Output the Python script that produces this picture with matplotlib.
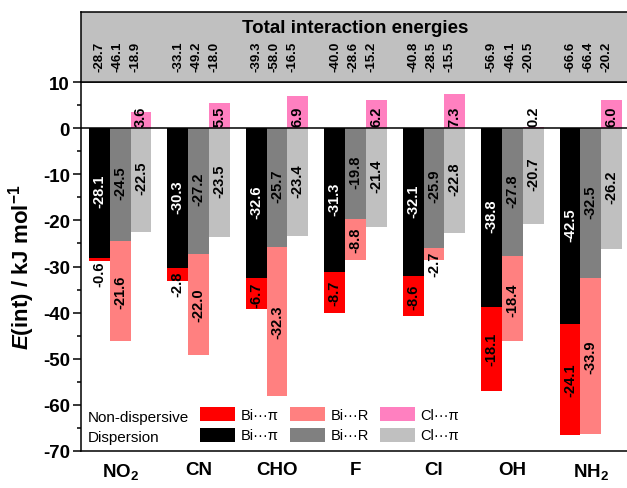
import matplotlib
matplotlib.use("Agg")
import matplotlib.pyplot as plt
import numpy as np
from matplotlib.patches import Patch
from matplotlib.ticker import MultipleLocator

plt.rcParams['font.family'] = ['Liberation Sans', 'DejaVu Sans']
plt.rcParams['mathtext.fontset'] = 'custom'
plt.rcParams['mathtext.rm'] = 'Liberation Sans'
plt.rcParams['mathtext.it'] = 'Liberation Sans:italic'
plt.rcParams['mathtext.bf'] = 'Liberation Sans:bold'
plt.rcParams['mathtext.bfit'] = 'Liberation Sans:bold:italic'
plt.rcParams['axes.unicode_minus'] = False

# ---- data -------------------------------------------------------------
substituents = ['NO$_\\mathbf{2}$', 'CN', 'CHO', 'F', 'Cl', 'OH', 'NH$_\\mathbf{2}$']
contacts = ['Bi\u00b7\u00b7\u00b7\u03c0', 'Bi\u00b7\u00b7\u00b7R', 'Cl\u00b7\u00b7\u00b7\u03c0']

# dispersion contributions (kJ/mol)
disp_bi_pi = [-28.1, -30.3, -32.6, -31.3, -32.1, -38.8, -42.5]
disp_bi_r = [-24.5, -27.2, -25.7, -19.8, -25.9, -27.8, -32.5]
disp_cl_pi = [-22.5, -23.5, -23.4, -21.4, -22.8, -20.7, -26.2]

# non-dispersive contributions (kJ/mol)
nondisp_bi_pi = [-0.6, -2.8, -6.7, -8.7, -8.6, -18.1, -24.1]
nondisp_bi_r = [-21.6, -22.0, -32.3, -8.8, -2.7, -18.4, -33.9]
nondisp_cl_pi = [3.6, 5.5, 6.9, 6.2, 7.3, 0.2, 6.0]

# total interaction energies (kJ/mol)
total_bi_pi = [-28.7, -33.1, -39.3, -40.0, -40.8, -56.9, -66.6]
total_bi_r = [-46.1, -49.2, -58.0, -28.6, -28.5, -46.1, -66.4]
total_cl_pi = [-18.9, -18.0, -16.5, -15.2, -15.5, -20.5, -20.2]

yticks = [-70, -60, -50, -40, -30, -20, -10, 0, 10]

# ---- styling ----------------------------------------------------------
disp_colors = ['#000000', '#808080', '#C0C0C0']
nondisp_colors = ['#FF0000', '#FF8080', '#FF80C0']
disp_text_colors = ['white', 'black', 'black']
bar_w = 0.265
bar_offsets = [-bar_w, 0.0, bar_w]
total_offsets = [-0.26, -0.03, 0.20]

W, H = 627, 489
fig = plt.figure(figsize=(W / 100, H / 100), dpi=100)

x_left_px, x_right_px = 81, 630
y_top_px, y_bot_px, head_top_px = 83, 452, 12.7
ax = fig.add_axes([x_left_px / W, (H - y_bot_px) / H,
                   (x_right_px - x_left_px) / W, (y_bot_px - y_top_px) / H])
hax = fig.add_axes([x_left_px / W, (H - y_top_px) / H,
                    (x_right_px - x_left_px) / W, (y_top_px - head_top_px) / H])

x = np.arange(len(substituents))
disp_sets = [disp_bi_pi, disp_bi_r, disp_cl_pi]
nondisp_sets = [nondisp_bi_pi, nondisp_bi_r, nondisp_cl_pi]
total_sets = [total_bi_pi, total_bi_r, total_cl_pi]

label_kw = dict(rotation=90, fontsize=10.5, fontweight='bold', ha='center', zorder=5)

for j in range(3):
    xs = x + bar_offsets[j]
    d = np.array(disp_sets[j])
    nd = np.array(nondisp_sets[j])
    ax.bar(xs, d, width=bar_w, color=disp_colors[j], zorder=2)
    nd_bottom = np.where(nd < 0, d, 0.0)
    ax.bar(xs, nd, width=bar_w, bottom=nd_bottom, color=nondisp_colors[j], zorder=2)
    for xi, dv, nv, b in zip(xs, d, nd, nd_bottom):
        ax.text(xi, dv / 2 + 0.5, f'{dv:.1f}', va='center', color=disp_text_colors[j], **label_kw)
        if nv > 0:
            ax.text(xi, b + 0.4, f'{nv:.1f}', va='bottom', color='black', **label_kw)
        elif abs(nv) < 4:
            ax.text(xi, b - 0.6, f'{nv:.1f}', va='top', color='black', **label_kw)
        else:
            ax.text(xi, b + nv / 2, f'{nv:.1f}', va='center', color='black', **label_kw)
    for xi, tv in zip(x + total_offsets[j], total_sets[j]):
        hax.text(xi, 0.15, f'{tv:.1f}', rotation=90, fontsize=9.5, fontweight='bold',
                 ha='center', va='bottom')

ax.axhline(0, color='black', lw=1.1, zorder=4)

ax.set_xlim(-0.5, 6.5)
ax.set_ylim(-70, 10)
ax.set_yticks(yticks)
ax.set_yticklabels([str(t) for t in yticks], fontweight='bold')
ax.yaxis.set_minor_locator(MultipleLocator(5))
ax.tick_params(axis='y', which='major', direction='out', length=6, width=1.1,
               labelsize=13.5, pad=2)
ax.tick_params(axis='y', which='minor', direction='out', length=3, width=1.1)
ax.set_xticks(x)
ax.set_xticklabels(substituents, fontweight='bold', fontsize=13.5)
ax.tick_params(axis='x', length=0, pad=7)
for sp in ax.spines.values():
    sp.set_linewidth(1.1)

fig.text(22 / W, 1 - (y_top_px + y_bot_px) / 2 / H,
         r'$\bfit{E}$(int) / kJ mol$^{\mathbf{-1}}$',
         rotation=90, ha='center', va='center', fontsize=16, fontweight='bold')

# header strip with totals
hax.set_facecolor('#C0C0C0')
hax.set_xlim(-0.5, 6.5)
hax.set_ylim(0, 1)
hax.set_xticks([])
hax.set_yticks([])
for sp in hax.spines.values():
    sp.set_linewidth(1.1)
hax.text(3.0, 0.71, 'Total interaction energies', ha='center', va='baseline',
         fontsize=13.5, fontweight='bold')

# legend: two rows (non-dispersive / dispersion) by three contacts
handles, labels = [], []
for j in range(3):
    handles += [Patch(facecolor=nondisp_colors[j]), Patch(facecolor=disp_colors[j])]
    labels += [contacts[j], contacts[j]]
ax.legend(handles, labels, ncol=3, loc='upper left', bbox_to_anchor=(0.2168, 0.118),
          frameon=False, borderpad=0, fontsize=10.5, handlelength=2.4,
          handleheight=1.1, handletextpad=0.4, columnspacing=0.75, labelspacing=0.35,
          borderaxespad=0)
ax.text(0.0128, 0.093, 'Non-dispersive', transform=ax.transAxes, fontsize=11,
        va='center', ha='left')
ax.text(0.0128, 0.037, 'Dispersion', transform=ax.transAxes, fontsize=11,
        va='center', ha='left')

fig.savefig('out.png', dpi=100)
